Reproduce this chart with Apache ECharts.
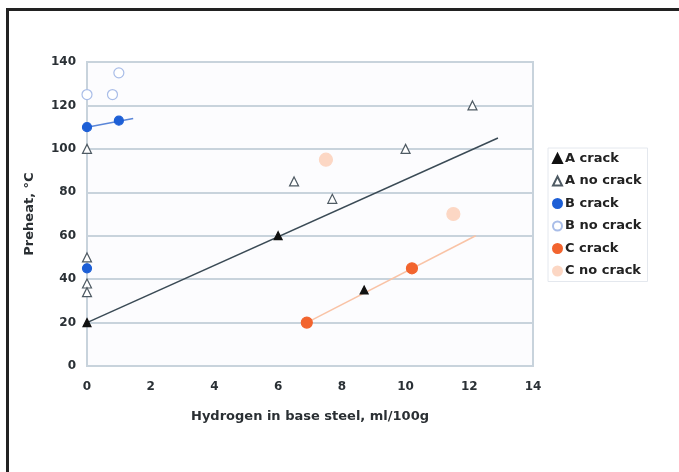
<!DOCTYPE html>
<html lang="en">
<head>
    <meta charset="UTF-8">
    <title>Preheat vs hydrogen</title>
    <script src="https://cdn.jsdelivr.net/npm/echarts@6/dist/echarts.min.js"></script>
    <style>
        body { margin: 0; background: #fff; }
        #frame { position: absolute; left: 6px; top: 8px; width: 690px; height: 480px;
                 border-left: 3px solid #222; border-top: 3px solid #222; }
        #chart { position: absolute; left: 0; top: 0; width: 679px; height: 472px; }
    </style>
</head>
<body>
<div id="frame"></div>
<div id="chart"></div>
<script type="text/javascript">
    // x = hydrogen (ml/100g), y = preheat (°C)
    let aCrack = [[0, 20], [6, 60], [8.7, 35]];
    let aNoCrack = [[0, 100], [0, 50], [0, 38], [0, 34], [6.5, 85], [7.7, 77], [10, 100], [12.1, 120]];
    let bCrack = [[0, 110], [1, 113], [0, 45]];
    let bNoCrack = [[0, 125], [0.8, 125], [1, 135]];
    let cCrack = [[6.9, 20], [10.2, 45]];
    let cNoCrack = [[7.5, 95], [11.5, 70]];

    // trend lines (end points)
    let aTrend = [[0, 20], [12.9, 105]];
    let bTrend = [[0, 110], [1.45, 114]];
    let cTrend = [[6.9, 20], [12.2, 60]];

    let xTicks = [0, 2, 4, 6, 8, 10, 12, 14];
    let yTicks = [0, 20, 40, 60, 80, 100, 120, 140];

    let font = 'DejaVu Sans, sans-serif';
    let gridColor = '#c8d3dc';

    function trend(data, color) {
        return {
            type: 'line', data: data, showSymbol: false, silent: true,
            lineStyle: {color: color, width: 1.5}, z: 1
        };
    }

    function pts(name, data, symbol, fill, border, size) {
        return {
            name: name, type: 'scatter', data: data, symbol: symbol, symbolSize: size,
            itemStyle: {color: fill, borderColor: border, borderWidth: 1.2, opacity: 1}, z: 3
        };
    }

    let option = {
        animation: false,
        backgroundColor: 'transparent',
        textStyle: {fontFamily: font},
        grid: {left: 87, right: 146, top: 62, bottom: 106, show: true,
            borderColor: gridColor, borderWidth: 2, backgroundColor: '#fcfcfe'},
        xAxis: {
            type: 'value', min: xTicks[0], max: xTicks[xTicks.length - 1], interval: 2,
            name: 'Hydrogen in base steel, ml/100g', nameLocation: 'middle', nameGap: 44,
            nameTextStyle: {fontWeight: 'bold', fontSize: 13, color: '#2a2f33', fontFamily: font},
            axisLine: {lineStyle: {color: gridColor, width: 2}},
            axisTick: {show: false},
            axisLabel: {fontWeight: 'bold', fontSize: 12, color: '#2a3035', margin: 15, fontFamily: font},
            splitLine: {show: false}
        },
        yAxis: {
            type: 'value', min: yTicks[0], max: yTicks[yTicks.length - 1], interval: 20,
            name: 'Preheat, °C', nameLocation: 'middle', nameGap: 51, nameRotate: 90,
            nameTextStyle: {fontWeight: 'bold', fontSize: 13, color: '#2a2f33', fontFamily: font},
            axisLine: {show: true, lineStyle: {color: gridColor, width: 2}},
            axisTick: {show: false},
            axisLabel: {fontWeight: 'bold', fontSize: 12, color: '#2a3035', margin: 11, fontFamily: font},
            splitLine: {lineStyle: {color: gridColor, width: 2}}
        },
        legend: {
            orient: 'vertical', left: 548, top: 148, itemGap: 9.5,
            itemWidth: 9, itemHeight: 9,
            borderColor: '#e4e8ee', borderWidth: 1, padding: [4, 6, 4, 4],
            textStyle: {fontWeight: 'bold', fontSize: 13, color: '#222', padding: [0, 0, 0, -2], fontFamily: font},
            data: ['A crack', 'A no crack', 'B crack', 'B no crack', 'C crack', 'C no crack']
        },
        series: [
            trend(aTrend, '#3a4a55'),
            trend(bTrend, '#5a86d8'),
            trend(cTrend, '#f9c3a6'),
            pts('A crack', aCrack, 'triangle', '#111', '#111', 8),
            pts('A no crack', aNoCrack, 'triangle', '#ffffff', '#4e5a63', 9),
            pts('B crack', bCrack, 'circle', '#1d5fd6', '#1d5fd6', 9),
            pts('B no crack', bNoCrack, 'circle', '#ffffff', '#a9bde8', 10),
            pts('C crack', cCrack, 'circle', '#f2642e', '#f2642e', 11),
            pts('C no crack', cNoCrack, 'circle', '#fcd7c4', '#fcd7c4', 13)
        ]
    };

    let myChart = echarts.init(document.getElementById('chart'));
    myChart.setOption(option);
</script>
</body>
</html>
